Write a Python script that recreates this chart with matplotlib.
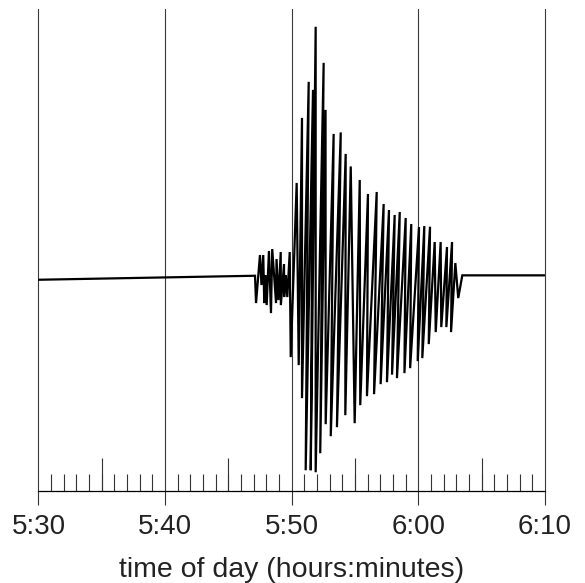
import numpy as np
import matplotlib.pyplot as plt
from matplotlib.ticker import MultipleLocator, FixedLocator

plt.rcParams['font.family'] = ['Liberation Sans', 'DejaVu Sans']

# minutes after 5:30, amplitude in arbitrary counts
quiet_t = [0.0, 17.10]
quiet_a = [-4.0, 0.0]

# small precursor wiggles before the main arrival
pre_t = [17.18, 17.49, 17.61, 17.75, 17.83, 17.93, 18.02, 18.20, 18.36, 18.46,
         18.76, 18.80, 18.95, 19.13, 19.14, 19.39, 19.40, 19.53, 19.65, 19.84]
pre_a = [-27.3, 20.7, -9.3, 20.7, -27.3, 0.7, -29.3, 24.7, -37.3, 26.7,
         -27.3, 16.7, -24.3, 23.7, -29.3, 11.7, -21.3, 0.7, -21.3, 23.7]

# main shaking: troughs and crests alternate
trough_t = [19.92, 20.55, 20.81, 21.10, 21.50, 21.89, 22.25, 22.68, 23.08, 23.57,
            24.23, 24.97, 25.41, 25.94, 26.50, 27.02, 27.52, 27.92, 28.31, 28.90,
            29.35, 29.95, 30.31, 30.82, 31.37, 31.81, 32.21, 32.58, 33.15]
trough_a = [-81.3, -89.3, -122.3, -194.3, -194.3, -196.3, -177.3, -148.3, -160.3, -151.3,
            -139.3, -147.3, -129.3, -120.3, -118.3, -108.3, -106.3, -98.8, -102.3, -97.3,
            -92.3, -85.3, -82.3, -68.3, -56.3, -51.3, -51.3, -56.3, -22.3]
crest_t = [20.39, 20.81, 21.34, 21.68, 21.89, 22.52, 22.67, 23.31, 23.87, 24.26,
           24.66, 25.37, 26.02, 26.71, 27.26, 27.68, 28.13, 28.53, 29.00, 29.44,
           30.05, 30.47, 30.92, 31.29, 31.76, 32.26, 32.66, 32.92]
crest_a = [92.7, 157.7, 193.7, 185.7, 248.7, 212.7, 165.7, 141.7, 143.2, 121.7,
           109.2, 95.7, 81.7, 83.7, 71.7, 65.7, 60.7, 63.7, 57.7, 51.7,
           48.7, 49.7, 49.0, 33.7, 33.7, 28.7, 33.7, 12.7]

tail_t = [33.47, 40.0]
tail_a = [0.4, 0.4]

tick_labels = ['5:30', '5:40', '5:50', '6:00', '6:10']

# stitch troughs and crests into one zigzag
n = len(trough_t) + len(crest_t)
main_t = np.empty(n)
main_a = np.empty(n)
main_t[0::2], main_t[1::2] = trough_t, crest_t
main_a[0::2], main_a[1::2] = trough_a, crest_a

t = np.concatenate([quiet_t, pre_t, main_t, tail_t])
a = np.concatenate([quiet_a, pre_a, main_a, tail_a])

fig = plt.figure(figsize=(5.85, 5.83), dpi=100)
ax = fig.add_axes([0.0658, 0.157, 0.8658, 0.8276])

ax.plot(t, a, color='black', lw=1.6, solid_joinstyle='miter')

ax.set_xlim(0, 40)
ax.set_ylim(-215.5, 266.5)

for s in ['left', 'right', 'top']:
    ax.spines[s].set_visible(False)
ax.spines['bottom'].set_linewidth(0.9)
ax.set_yticks([])

ax.xaxis.set_major_locator(MultipleLocator(10))
ax.xaxis.set_minor_locator(MultipleLocator(1))
ax.set_xticks(np.arange(0, 41, 10))
ax.set_xticklabels(tick_labels)
ax.tick_params(axis='x', which='major', direction='out', length=10, width=0.8,
               color='#333333', labelsize=20, labelcolor='#222222', pad=6.5)
ax.tick_params(axis='x', which='minor', direction='in', length=12, width=0.8,
               color='#333333')
ax.grid(axis='x', which='major', color='#3a3a3a', lw=0.8)
for gl in ax.xaxis.get_gridlines():
    gl.set_clip_on(False)

# longer in-ticks every five minutes
sec = ax.secondary_xaxis('bottom')
sec.xaxis.set_major_locator(FixedLocator([5, 15, 25, 35]))
sec.tick_params(axis='x', direction='in', length=23.5, width=0.8,
                color='#333333', labelbottom=False)
sec.spines['bottom'].set_visible(False)

ax.set_xlabel('time of day (hours:minutes)', fontsize=20.5, color='#222222',
              labelpad=12)

fig.savefig('out.png', dpi=100)
